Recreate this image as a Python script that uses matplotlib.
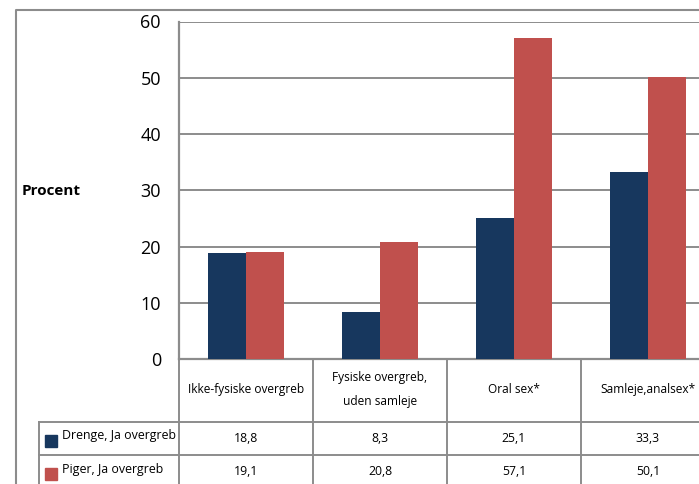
import matplotlib.pyplot as plt
import numpy as np

categories = ['Ikke-fysiske overgreb', 'Fysiske overgreb,\nuden samleje', 'Oral sex*', 'Samleje,analsex*']
series = ['Drenge, Ja overgreb', 'Piger, Ja overgreb']
drenge = [18.8, 8.3, 25.1, 33.3]
piger = [19.1, 20.8, 57.1, 50.1]
yticks = [0, 10, 20, 30, 40, 50, 60]
colors = ['#17375E', '#C0504D']
grid_c = '#8C8C8C'

W, H = 699, 484
fig = plt.figure(figsize=(W / 100, H / 100), dpi=100)
plt.rcParams['font.family'] = ['Open Sans', 'DejaVu Sans']

# background axes in pixel coords for frame + table
bg = fig.add_axes([0, 0, 1, 1])
bg.set_xlim(0, W)
bg.set_ylim(H, 0)
bg.axis('off')

# plot area (extends past right edge like the original)
x0, y_top, y_zero, colw = 179, 21.5, 359, 134
n = len(categories)
ax = fig.add_axes([x0 / W, 1 - y_zero / H, n * colw / W, (y_zero - y_top) / H])
x = np.arange(n)
bw = 38 / colw
ax.bar(x - bw / 2, drenge, bw, color=colors[0], zorder=3)
ax.bar(x + bw / 2, piger, bw, color=colors[1], zorder=3)
ax.set_xlim(-0.5, n - 0.5)
ax.set_ylim(0, 60)
ax.set_yticks(yticks)
ax.set_yticklabels([str(t) for t in yticks], fontsize=13)
ax.tick_params(axis='y', length=0, pad=13)
ax.set_xticks([])
ax.grid(axis='y', color=grid_c, lw=1.4, zorder=0)
for s in ['top', 'right', 'bottom']:
    ax.spines[s].set_visible(False)
ax.spines['left'].set_color(grid_c)
ax.spines['left'].set_linewidth(1.6)
ax.set_facecolor('none')

fig.text(22 / W, 1 - 191 / H, 'Procent', fontsize=11, fontweight='bold', va='center')

# outer frame
bg.plot([16, 16, W + 5], [H + 5, 10, 10], color=grid_c, lw=1.5)

# table
row_y = [359, 422, 455, 489]
leg_x = 39
right = x0 + n * colw
bg.plot([x0, right], [row_y[0], row_y[0]], color=grid_c, lw=1.6)
for y in row_y[1:3]:
    bg.plot([leg_x, right], [y, y], color=grid_c, lw=1.4)
for i in range(n + 1):
    xx = x0 + i * colw
    bg.plot([xx, xx], [row_y[0], H + 5], color=grid_c, lw=1.4)
bg.plot([leg_x, leg_x], [row_y[1], H + 5], color=grid_c, lw=1.4)

for i, c in enumerate(categories):
    cx = x0 + (i + 0.5) * colw
    bg.text(cx, (row_y[0] + row_y[1]) / 2 - 1, c, ha='center', va='center',
            fontsize=8.6, linespacing=2.2)
    for r, vals in enumerate([drenge, piger]):
        bg.text(cx, (row_y[r + 1] + min(row_y[r + 2], 488)) / 2, f'{vals[i]:.1f}'.replace('.', ','),
                ha='center', va='center', fontsize=8.8)

for r, name in enumerate(series):
    yc = (row_y[r + 1] + row_y[r + 2]) / 2
    bg.add_patch(plt.Rectangle((45, yc - 6 + 2), 12, 12, color=colors[r]))
    bg.text(62, yc - 3, name, ha='left', va='center', fontsize=8.9)

fig.savefig('out.png', dpi=100)
